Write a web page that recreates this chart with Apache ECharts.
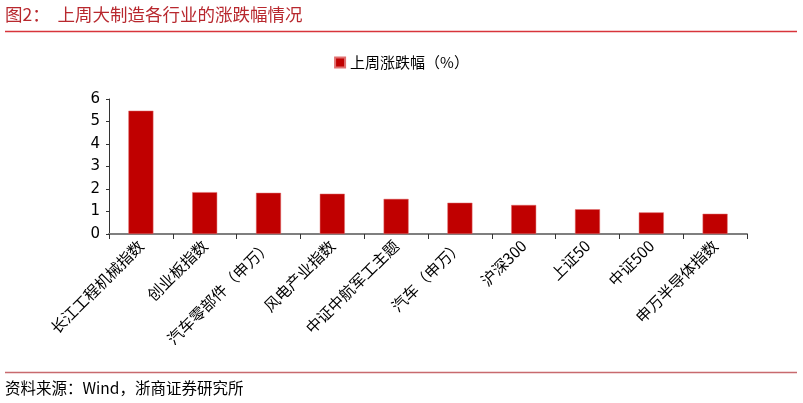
<!DOCTYPE html>
<html><head><meta charset="utf-8">
<script src="https://cdn.jsdelivr.net/npm/echarts@6/dist/echarts.min.js"></script>
<style>html,body{margin:0;padding:0;background:#fff}#c{width:803px;height:403px}</style>
</head><body><div id="c"></div>
<script>
const categories = ['长江工程机械指数','创业板指数','汽车零部件（申万）','风电产业指数','中证中航军工主题','汽车（申万）','沪深300','上证50','中证500','申万半导体指数'];
const seriesName = '上周涨跌幅（%）';
const values = [5.48, 1.86, 1.83, 1.79, 1.56, 1.39, 1.29, 1.10, 0.96, 0.90];
const yTicks = [0, 1, 2, 3, 4, 5, 6];
const titleText = '图2：  上周大制造各行业的涨跌幅情况';
const sourceText = '资料来源：Wind，浙商证券研究所';

const chart = echarts.init(document.getElementById('c'));
const cjk = '"Noto Sans CJK SC", sans-serif';
chart.setOption({
  animation: false,
  backgroundColor: '#fff',
  graphic: [
    {type:'text', left: 5, top: 6, style:{text: titleText, fill:'#B8282E', font:'17.5px "Noto Sans CJK SC"'}},
    {type:'line', shape:{x1:5,y1:31.5,x2:797,y2:31.5}, style:{stroke:'#D8343B', lineWidth:1.5}},
    {type:'line', shape:{x1:5,y1:372.5,x2:797,y2:372.5}, style:{stroke:'#C86A6E', lineWidth:1.5}},
    {type:'text', left: 5, top: 380, style:{text: sourceText, fill:'#000', font:'15.5px "Noto Sans CJK SC"'}}
  ],
  legend: {
    top: 50, left: 'center',
    itemWidth: 10, itemHeight: 10, itemGap: 6,
    icon: 'rect',
    textStyle: {fontSize: 15, color:'#000', fontFamily: cjk},
    data: [seriesName]
  },
  grid: {left: 109, right: 56, top: 99, bottom: 169, containLabel: false},
  xAxis: {
    type: 'category', data: categories,
    axisLine: {lineStyle: {color:'#7f7f7f', width: 2}},
    axisTick: {show: true, length: 5, lineStyle:{color:'#333', width:1}},
    axisLabel: {rotate: 45, fontSize: 15.5, color:'#000', fontFamily: cjk, interval: 0, margin: 9}
  },
  yAxis: {
    type: 'value', min: 0, max: 6, interval: 1,
    splitLine: {show: false},
    axisLine: {show: true, lineStyle: {color:'#333', width: 1}},
    axisTick: {show: true, length: 3, lineStyle:{color:'#333'}},
    axisLabel: {fontSize: 15, color:'#000', margin: 9, fontFamily:'"DejaVu Sans"',
      formatter: v => yTicks.includes(v) ? String(v) : ''}
  },
  series: [{
    name: seriesName, type: 'bar', data: values,
    barWidth: 25,
    itemStyle: {color: '#C00000', borderColor:'#E07070', borderWidth: 0.5}
  }]
});
</script></body></html>
